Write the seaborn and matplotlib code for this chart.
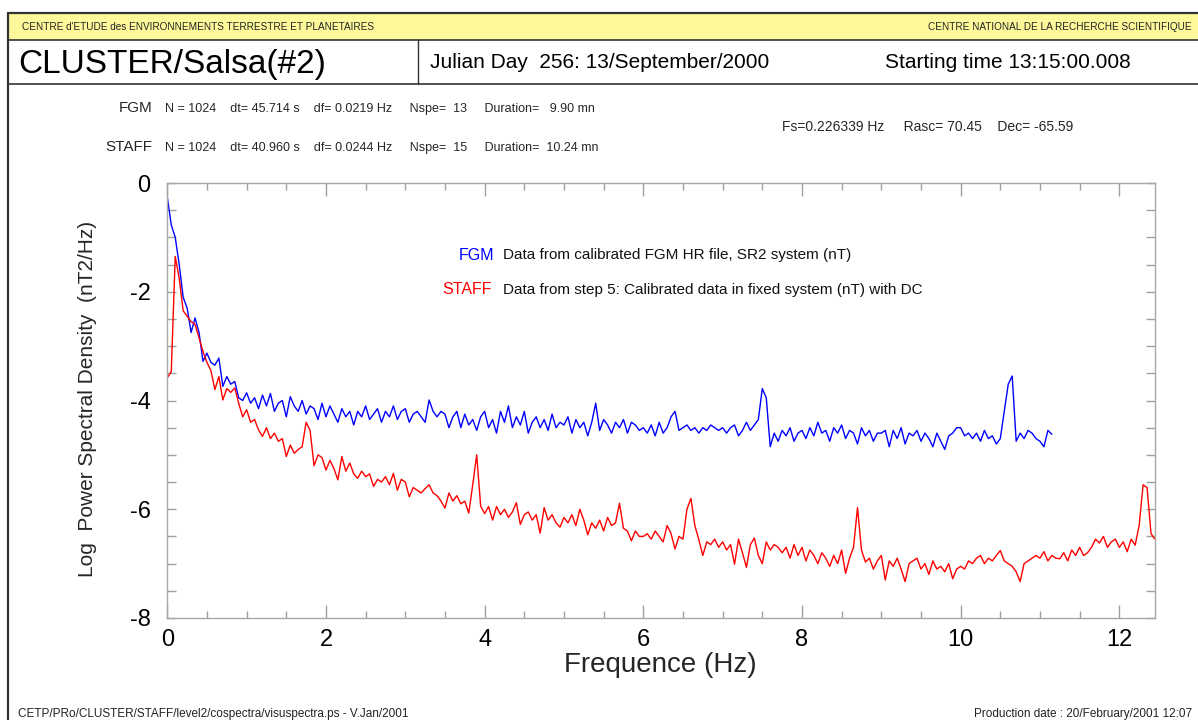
import numpy as np
import pandas as pd
import matplotlib
matplotlib.use("Agg")
import matplotlib.pyplot as plt
import seaborn as sns
from matplotlib.lines import Line2D
from matplotlib.patches import Rectangle
from matplotlib.ticker import MultipleLocator, FuncFormatter

# ---------------- data (log10 PSD) ----------------
freq_step = 0.05  # Hz, sampling grid of the values below

fgm_psd = [
    -0.26, -0.77, -1.0, -1.5, -2.1, -2.3, -2.75, -2.48, -2.75, -3.28, -3.13, -3.3, -3.35, -3.22, -3.74, -3.56, -3.7, -3.65, -3.95, -4.0,
    -3.86, -4.05, -3.95, -4.15, -3.9, -4.1, -3.87, -4.2, -4.05, -4.0, -4.3, -3.93, -4.1, -4.2, -4.0, -4.25, -4.1, -4.15, -4.35, -4.05,
    -4.3, -4.1, -4.25, -4.4, -4.15, -4.3, -4.2, -4.45, -4.2, -4.3, -4.1, -4.35, -4.25, -4.15, -4.4, -4.2, -4.3, -4.1, -4.35, -4.2,
    -4.15, -4.4, -4.25, -4.2, -4.3, -4.4, -3.99, -4.2, -4.3, -4.2, -4.25, -4.5, -4.3, -4.2, -4.5, -4.25, -4.45, -4.35, -4.55, -4.3,
    -4.2, -4.5, -4.35, -4.6, -4.2, -4.4, -4.1, -4.5, -4.3, -4.45, -4.2, -4.6, -4.4, -4.3, -4.5, -4.35, -4.55, -4.25, -4.5, -4.4,
    -4.45, -4.3, -4.6, -4.35, -4.5, -4.4, -4.65, -4.4, -4.05, -4.55, -4.35, -4.45, -4.6, -4.4, -4.5, -4.35, -4.6, -4.4, -4.45, -4.55,
    -4.5, -4.6, -4.45, -4.65, -4.4, -4.6, -4.5, -4.3, -4.2, -4.55, -4.5, -4.45, -4.55, -4.5, -4.6, -4.5, -4.55, -4.45, -4.5, -4.55,
    -4.5, -4.6, -4.5, -4.45, -4.65, -4.55, -4.4, -4.55, -4.45, -4.35, -3.78, -3.95, -4.85, -4.6, -4.75, -4.55, -4.65, -4.5, -4.75, -4.6,
    -4.55, -4.7, -4.5, -4.65, -4.4, -4.6, -4.55, -4.75, -4.5, -4.6, -4.45, -4.7, -4.55, -4.6, -4.8, -4.5, -4.65, -4.55, -4.75, -4.6,
    -4.6, -4.55, -4.85, -4.55, -4.7, -4.5, -4.8, -4.6, -4.65, -4.55, -4.75, -4.6, -4.7, -4.85, -4.6, -4.75, -4.9, -4.65, -4.6, -4.5,
    -4.5, -4.65, -4.6, -4.7, -4.6, -4.75, -4.55, -4.7, -4.65, -4.8, -4.7, -4.2, -3.7, -3.55, -4.75, -4.6, -4.7, -4.55, -4.6, -4.7,
    -4.75, -4.85, -4.55, -4.62,
]

staff_psd = [
    -3.58, -3.47, -1.35, -1.75, -2.35, -2.45, -2.55, -2.6, -2.85, -3.1, -3.3, -3.45, -3.8, -3.56, -3.99, -3.78, -3.85, -3.77, -4.05, -4.3,
    -4.17, -4.4, -4.35, -4.54, -4.66, -4.5, -4.7, -4.6, -4.75, -4.7, -5.03, -4.82, -4.97, -4.9, -4.85, -4.4, -4.55, -5.2, -5.0, -5.05,
    -5.28, -5.1, -5.25, -5.46, -5.03, -5.3, -5.15, -5.35, -5.43, -5.3, -5.4, -5.35, -5.58, -5.45, -5.5, -5.4, -5.55, -5.34, -5.65, -5.45,
    -5.5, -5.77, -5.6, -5.65, -5.7, -5.62, -5.55, -5.7, -5.75, -5.85, -5.98, -5.7, -5.85, -5.75, -5.9, -5.85, -6.07, -5.55, -5.0, -5.94,
    -6.08, -5.95, -6.2, -5.95, -6.1, -6.0, -6.15, -6.05, -5.88, -6.28, -6.1, -6.05, -6.2, -6.1, -6.44, -5.97, -6.2, -6.1, -6.25, -6.33,
    -6.15, -6.25, -6.1, -6.3, -6.0, -6.2, -6.47, -6.25, -6.35, -6.2, -6.4, -6.15, -6.3, -6.25, -5.89, -6.35, -6.4, -6.58, -6.4, -6.5,
    -6.5, -6.45, -6.55, -6.4, -6.5, -6.6, -6.3, -6.45, -6.73, -6.5, -6.55, -6.0, -5.8, -6.3, -6.56, -6.85, -6.6, -6.65, -6.55, -6.7,
    -6.6, -6.75, -6.65, -7.01, -6.55, -6.8, -7.07, -6.65, -6.53, -6.85, -7.0, -6.6, -6.75, -6.65, -6.7, -6.8, -6.7, -6.9, -6.65, -6.85,
    -6.7, -6.95, -6.75, -6.85, -7.0, -6.8, -6.9, -7.05, -6.85, -7.0, -6.75, -7.18, -6.9, -6.7, -5.97, -6.75, -6.97, -6.9, -7.1, -6.95,
    -6.85, -7.3, -6.95, -7.05, -6.9, -7.1, -7.33, -7.0, -6.95, -6.9, -7.1, -7.0, -7.2, -6.95, -7.1, -7.05, -7.15, -7.0, -7.28, -7.1,
    -7.05, -7.1, -6.95, -7.0, -6.9, -6.85, -7.0, -6.9, -6.95, -6.85, -6.76, -6.95, -7.0, -7.05, -7.15, -7.33, -7.0, -6.95, -6.9, -6.85,
    -6.9, -6.78, -6.95, -6.85, -6.9, -6.91, -6.8, -6.95, -6.75, -6.85, -6.7, -6.85, -6.8, -6.7, -6.55, -6.62, -6.5, -6.7, -6.6, -6.55,
    -6.7, -6.6, -6.78, -6.55, -6.66, -6.3, -5.55, -5.6, -6.45, -6.55,
]

x_ticks_major = 2
x_ticks_minor = 0.5
y_ticks_major = 2
y_ticks_minor = 0.5

fgm_freq = np.round(np.arange(len(fgm_psd)) * freq_step, 3)
staff_freq = np.round(np.arange(len(staff_psd)) * freq_step, 3)
df_fgm = pd.DataFrame({"freq": fgm_freq, "psd": fgm_psd})
df_staff = pd.DataFrame({"freq": staff_freq, "psd": staff_psd})

# ---------------- style ----------------
sns.set_theme(style="white")
plt.rcParams["font.family"] = ["Liberation Sans", "DejaVu Sans"]
plt.rcParams["axes.unicode_minus"] = False

W, H = 1198, 720
fig = plt.figure(figsize=(W / 100, H / 100), dpi=100)


def fx(px):
    return px / W


def fy(py):
    return 1 - py / H


# header frame
fig.add_artist(Rectangle((fx(8), fy(40)), fx(1198) - fx(8), fy(13) - fy(40),
                         transform=fig.transFigure, facecolor="#fdf99b", edgecolor="none"))
frame_col = "#333333"
for (x0, y0, x1, y1, lw) in [
    (8, 13, 1198, 13, 1.6),
    (8, 40, 1198, 40, 1.2),
    (8, 84, 1198, 84, 1.2),
    (418, 40, 418, 84, 1.0),
    (8, 13, 8, 720, 1.6),
]:
    fig.add_artist(Line2D([fx(x0), fx(x1)], [fy(y0), fy(y1)], transform=fig.transFigure,
                          color=frame_col, lw=lw))

fig.text(fx(22), fy(27), "CENTRE d'ETUDE des ENVIRONNEMENTS TERRESTRE ET PLANETAIRES",
         fontsize=7.2, ha="left", va="center", color="#222222")
fig.text(fx(1192), fy(27), "CENTRE NATIONAL DE LA RECHERCHE SCIENTIFIQUE",
         fontsize=7.2, ha="right", va="center", color="#222222")
fig.text(fx(18), fy(64), "CLUSTER/Salsa(#2)", fontsize=24, ha="left", va="center", color="black")
fig.text(fx(430), fy(63), "Julian Day  256: 13/September/2000", fontsize=15,
         ha="left", va="center", color="black")
fig.text(fx(885), fy(63), "Starting time 13:15:00.008", fontsize=15,
         ha="left", va="center", color="black")

# info block
fig.text(fx(152), fy(108), "FGM", fontsize=11, ha="right", va="center")
fig.text(fx(165), fy(109), "N = 1024    dt= 45.714 s    df= 0.0219 Hz     Nspe=  13     Duration=   9.90 mn",
         fontsize=9, ha="left", va="center")
fig.text(fx(152), fy(147), "STAFF", fontsize=11, ha="right", va="center")
fig.text(fx(165), fy(148), "N = 1024    dt= 40.960 s    df= 0.0244 Hz     Nspe=  15     Duration=  10.24 mn",
         fontsize=9, ha="left", va="center")
fig.text(fx(782), fy(127), "Fs=0.226339 Hz     Rasc= 70.45    Dec= -65.59",
         fontsize=10, ha="left", va="center")

# ---------------- plot ----------------
ax = fig.add_axes([fx(167.3), fy(618), fx(1155) - fx(167.3), fy(183) - fy(618)])
sns.lineplot(data=df_fgm, x="freq", y="psd", ax=ax, color="#0000ff", lw=1.0,
             estimator=None, sort=False, legend=False)
sns.lineplot(data=df_staff, x="freq", y="psd", ax=ax, color="#ff0000", lw=1.0,
             estimator=None, sort=False, legend=False)

ax.set_xlim(0, 12.45)
ax.set_ylim(-8, 0)
ax.set_xlabel("")
ax.set_ylabel("")
ax.xaxis.set_major_locator(MultipleLocator(x_ticks_major))
ax.xaxis.set_minor_locator(MultipleLocator(x_ticks_minor))
ax.yaxis.set_major_locator(MultipleLocator(y_ticks_major))
ax.yaxis.set_minor_locator(MultipleLocator(y_ticks_minor))
ax.yaxis.set_major_formatter(FuncFormatter(lambda v, p: "0" if abs(v) < 1e-9 else f"{v:.0f}"))
ax.tick_params(which="both", direction="in", top=True, right=True, bottom=True, left=True,
               color="#a0a0a0", width=1.0, labelcolor="black", labelsize=17)
ax.tick_params(axis="x", which="major", length=9.5, pad=8)
ax.tick_params(axis="x", which="minor", length=5)
ax.tick_params(axis="y", which="both", length=6.5, pad=12)
for sp in ax.spines.values():
    sp.set_color("#a8a8a8")
    sp.set_linewidth(1.0)
ax.set_facecolor("white")
ax.grid(False)

# legend texts
fig.text(fx(494), fy(255), "FGM", fontsize=11.5, color="#0000ff", ha="right", va="center")
fig.text(fx(503), fy(255), "Data from calibrated FGM HR file, SR2 system (nT)",
         fontsize=11, ha="left", va="center", color="#111111")
fig.text(fx(492), fy(290), "STAFF", fontsize=11.5, color="#ff0000", ha="right", va="center")
fig.text(fx(503), fy(290), "Data from step 5: Calibrated data in fixed system (nT) with DC",
         fontsize=11, ha="left", va="center", color="#111111")

# axis labels
fig.text(fx(88), fy(399), "Log  Power Spectral Density  (nT2/Hz)", fontsize=15,
         rotation=90, ha="center", va="center")
fig.text(fx(660), fy(665), "Frequence (Hz)", fontsize=20, ha="center", va="center")

# footer
fig.text(fx(18), fy(714), "CETP/PRo/CLUSTER/STAFF/level2/cospectra/visuspectra.ps - V.Jan/2001",
         fontsize=8.5, ha="left", va="center", color="#222222")
fig.text(fx(1192), fy(714), "Production date : 20/February/2001 12:07",
         fontsize=8.5, ha="right", va="center", color="#222222")

fig.savefig("out.png", dpi=100, facecolor="white")
